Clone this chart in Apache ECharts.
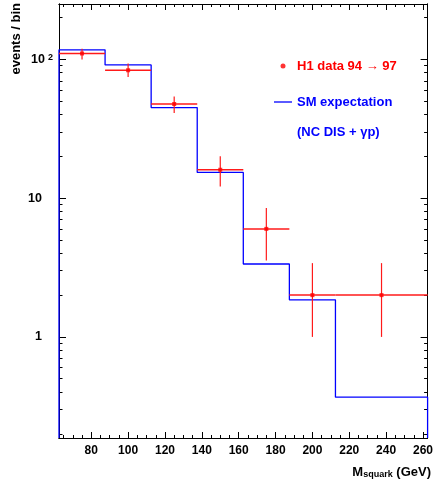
<!DOCTYPE html>
<html>
<head>
<meta charset="utf-8">
<script src="https://cdn.jsdelivr.net/npm/echarts@6/dist/echarts.min.js"></script>
<style>html,body{margin:0;padding:0;background:#fff;}#c{width:436px;height:481px;}</style>
</head>
<body>
<div id="c"></div>
<script>
// ---- data ----
const binLo = [62.5, 87.5, 112.5, 137.5, 162.5, 187.5, 212.5];
const binHi = [87.5, 112.5, 137.5, 162.5, 187.5, 212.5, 262.5];
const smValues = [117, 91, 44.9, 15.3, 3.35, 1.85, 0.368];
const dataX = [75, 100, 125, 150, 175, 200, 237.5];
const dataY = [110, 83.3, 47.6, 16, 6, 2, 2];
const errLow = [99.5, 74.6, 41, 12.1, 3.55, 1, 1];
const errHigh = [119, 93, 54, 20, 8.5, 3.4, 3.4];
const xMajorTicks = [80, 100, 120, 140, 160, 180, 200, 220, 240, 260];
const xMinorTicks = [65,70,75,85,90,95,105,110,115,125,130,135,145,150,155,165,170,175,185,190,195,205,210,215,225,230,235,245,250,255];
const yMajorTicks = [1, 10, 100];
const yMinorTicks = [0.2,0.3,0.4,0.5,0.6,0.7,0.8,0.9,2,3,4,5,6,7,8,9,20,30,40,50,60,70,80,90,200];
const xMin = 62.5, xMax = 262.5, yMin = 0.187, yMax = 250;
const dataName = 'H1 data 94 \u2192 97';
const smName = 'SM expectation';

const FF = '"Liberation Sans", Arial, Helvetica, sans-serif';

// histogram outline
const histPts = [[binLo[0], yMin]];
for (let i = 0; i < smValues.length; i++) {
  histPts.push([binLo[i], smValues[i]]);
  histPts.push([binHi[i], smValues[i]]);
}
histPts.push([binHi[binHi.length - 1], yMin]);

const errData = dataX.map((x, i) => [x, dataY[i], errLow[i], errHigh[i], binLo[i], binHi[i]]);
const ptsData = dataX.map((x, i) => [x, dataY[i]]);

function xAx(pos, ticks, len, labels) {
  return {
    type: 'value', position: pos, min: xMin, max: xMax,
    splitLine: {show: false},
    axisLine: {show: true, onZero: false, lineStyle: {color: '#000', width: 1}},
    axisTick: {show: true, inside: true, length: len, customValues: ticks, lineStyle: {color: '#000', width: 1}},
    axisLabel: labels ? {show: true, customValues: ticks, margin: 7, color: '#000', fontSize: 12, fontWeight: 'bold', fontFamily: FF} : {show: false}
  };
}
function yAx(pos, ticks, len, labels) {
  return {
    type: 'log', logBase: 10, position: pos, min: yMin, max: yMax,
    splitLine: {show: false},
    axisLine: {show: true, onZero: false, lineStyle: {color: '#000', width: 1}},
    axisTick: {show: true, inside: true, length: len, customValues: ticks, lineStyle: {color: '#000', width: 1}},
    axisLabel: labels ? {
      show: true, customValues: ticks, margin: 6,
      formatter: v => (Math.abs(v - 100) < 1e-6 ? '{b|10}{s|2}' : '{c|' + Math.round(v) + '}'),
      rich: {
        b: {fontSize: 12.5, fontWeight: 'bold', fontFamily: FF, color: '#000'},
        s: {fontSize: 9, fontWeight: 'bold', fontFamily: FF, color: '#000', verticalAlign: 'top', padding: [0, 0, 0, 3]},
        c: {fontSize: 12.5, fontWeight: 'bold', fontFamily: FF, color: '#000', padding: [0, 11, 0, 0]}
      }
    } : {show: false}
  };
}

const chart = echarts.init(document.getElementById('c'), null, {renderer: 'canvas'});
chart.setOption({
  animation: false,
  backgroundColor: '#fff',
  grid: {left: 59, right: 5, top: 4, bottom: 43, containLabel: false},
  xAxis: [xAx('bottom', xMajorTicks, 6, true), xAx('bottom', xMinorTicks, 3, false), xAx('top', xMajorTicks, 6, false), xAx('top', xMinorTicks, 3, false)],
  yAxis: [yAx('left', yMajorTicks, 7, true), yAx('left', yMinorTicks, 3.5, false), yAx('right', yMajorTicks, 7, false), yAx('right', yMinorTicks, 3.5, false)],
  legend: {
    orient: 'vertical', left: 269, top: 53, itemWidth: 18, itemHeight: 5, itemGap: 20,
    selectedMode: false,
    textStyle: {fontSize: 13, fontWeight: 'bold', fontFamily: FF, lineHeight: 16},
    data: [
      {name: dataName, icon: 'circle', itemStyle: {color: '#ff0000'}, textStyle: {color: '#ff0000'}},
      {name: smName, icon: 'path://M0,0H18V1.3H0Z', itemStyle: {color: '#0000ff'}, textStyle: {color: '#0000ff'}}
    ]
  },
  graphic: [
    {type: 'text', left: 297, top: 126, style: {text: '(NC DIS + \u03b3p)', fill: '#0000ff', font: 'bold 13px ' + FF}},
    {type: 'text', x: 16, y: 3, rotation: Math.PI / 2, style: {text: 'events / bin', fill: '#000', font: 'bold 13px ' + FF, align: 'right', verticalAlign: 'middle'}},
    {type: 'text', x: 431, y: 472, style: {
      text: '{m|M}{s|squark}{m| (GeV)}', align: 'right', verticalAlign: 'middle',
      rich: {
        m: {fontSize: 13, fontWeight: 'bold', fontFamily: FF, fill: '#000'},
        s: {fontSize: 9, fontWeight: 'bold', fontFamily: FF, fill: '#000', verticalAlign: 'bottom', padding: [6, 0, 0, 0]}
      }
    }}
  ],
  series: [
    {
      name: smName, type: 'line', data: histPts, xAxisIndex: 0, yAxisIndex: 0,
      symbol: 'none', showSymbol: false, lineStyle: {color: '#0000ff', width: 1.3}, itemStyle: {color: '#0000ff'}, z: 3
    },
    {
      name: 'errors', type: 'custom', xAxisIndex: 0, yAxisIndex: 0, data: errData,
      encode: {x: [0, 4, 5], y: [1, 2, 3]}, z: 4,
      renderItem: function (params, api) {
        const v1 = api.coord([api.value(0), api.value(2)]);
        const v2 = api.coord([api.value(0), api.value(3)]);
        const h1 = api.coord([api.value(4), api.value(1)]);
        const h2 = api.coord([api.value(5), api.value(1)]);
        return {type: 'group', children: [
          {type: 'line', shape: {x1: v1[0], y1: v1[1], x2: v2[0], y2: v2[1]}, style: {stroke: '#ff1a1a', lineWidth: 1.2}},
          {type: 'line', shape: {x1: h1[0], y1: h1[1], x2: h2[0], y2: h2[1]}, style: {stroke: '#ff1a1a', lineWidth: 1.5}}
        ]};
      }
    },
    {
      name: dataName, type: 'scatter', data: ptsData, xAxisIndex: 0, yAxisIndex: 0,
      symbol: 'rect', symbolSize: 4, itemStyle: {color: '#ff0000'}, z: 5
    }
  ]
});
</script>
</body>
</html>
